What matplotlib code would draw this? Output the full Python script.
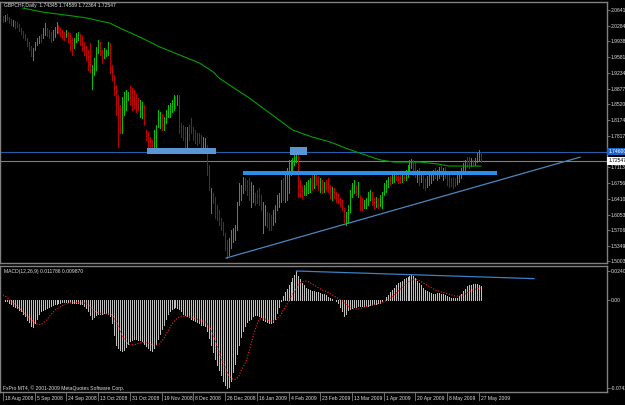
import matplotlib
matplotlib.use("Agg")
import matplotlib.pyplot as plt
from matplotlib.patches import Rectangle
import numpy as np

plt.rcParams['font.family'] = ['Liberation Sans', 'DejaVu Sans']

# GBPCHF daily bars (one bar per trading day, Sundays included)
high = [
    2.050, 2.052, 2.055, 2.048, 2.043, 2.041, 2.039, 2.037, 2.032, 2.023,
    2.017, 2.010, 2.001, 1.992, 1.983, 1.978, 1.992, 2.001, 2.005, 2.010,
    2.023, 2.034, 2.023, 2.019, 2.014, 2.019, 2.026, 2.037, 2.030, 2.023,
    2.019, 2.014, 2.019, 2.014, 2.012, 2.001, 2.001, 2.012, 2.014, 2.010,
    2.005, 1.992, 1.983, 1.974, 1.990, 1.940, 1.956, 1.981, 1.996, 1.992,
    1.974, 1.978, 1.974, 1.992, 1.990, 1.940, 1.918, 1.896, 1.873, 1.851,
    1.869, 1.880, 1.884, 1.880, 1.893, 1.889, 1.884, 1.875, 1.866, 1.862,
    1.858, 1.851, 1.795, 1.790, 1.779, 1.772, 1.795, 1.806, 1.840, 1.835,
    1.831, 1.824, 1.840, 1.851, 1.855, 1.862, 1.873, 1.871, 1.873, 1.873,
    1.810, 1.806, 1.801, 1.801, 1.806, 1.822, 1.801, 1.795, 1.788, 1.788,
    1.784, 1.779, 1.777, 1.761, 1.716, 1.665, 1.654, 1.645, 1.627, 1.616,
    1.598, 1.589, 1.564, 1.548, 1.553, 1.571, 1.575, 1.582, 1.634, 1.676,
    1.672, 1.690, 1.687, 1.683, 1.687, 1.678, 1.672, 1.654, 1.660, 1.665,
    1.649, 1.634, 1.627, 1.611, 1.609, 1.604, 1.616, 1.627, 1.649, 1.654,
    1.683, 1.687, 1.701, 1.710, 1.728, 1.728, 1.732, 1.745, 1.750, 1.750,
    1.683, 1.672, 1.672, 1.678, 1.683, 1.687, 1.694, 1.698, 1.701, 1.692,
    1.687, 1.683, 1.678, 1.683, 1.687, 1.672, 1.667, 1.665, 1.656, 1.654,
    1.642, 1.638, 1.620, 1.611, 1.627, 1.660, 1.676, 1.683, 1.672, 1.678,
    1.649, 1.642, 1.638, 1.642, 1.656, 1.660, 1.656, 1.642, 1.645, 1.642,
    1.649, 1.656, 1.676, 1.683, 1.690, 1.692, 1.696, 1.701, 1.698, 1.698,
    1.694, 1.698, 1.701, 1.705, 1.716, 1.728, 1.730, 1.728, 1.723, 1.705,
    1.710, 1.701, 1.694, 1.687, 1.692, 1.694, 1.701, 1.705, 1.710, 1.705,
    1.712, 1.714, 1.710, 1.712, 1.701, 1.694, 1.687, 1.690, 1.687, 1.694,
    1.701, 1.710, 1.721, 1.728, 1.734, 1.734, 1.732, 1.728, 1.732, 1.743,
    1.750, 1.746,
]
low = [
    2.037, 2.039, 2.041, 2.034, 2.030, 2.028, 2.023, 2.026, 2.017, 2.010,
    2.001, 1.996, 1.983, 1.974, 1.961, 1.952, 1.974, 1.985, 1.990, 1.992,
    2.001, 2.008, 2.005, 2.001, 1.992, 1.996, 2.003, 2.012, 2.012, 2.005,
    2.001, 1.996, 2.003, 1.992, 1.974, 1.963, 1.978, 1.992, 1.996, 1.985,
    1.974, 1.963, 1.952, 1.929, 1.925, 1.887, 1.918, 1.929, 1.967, 1.963,
    1.945, 1.956, 1.961, 1.963, 1.922, 1.907, 1.873, 1.828, 1.757, 1.788,
    1.788, 1.828, 1.840, 1.862, 1.851, 1.840, 1.844, 1.835, 1.840, 1.824,
    1.822, 1.806, 1.772, 1.754, 1.743, 1.743, 1.750, 1.754, 1.801, 1.799,
    1.795, 1.795, 1.810, 1.824, 1.824, 1.835, 1.840, 1.844, 1.851, 1.788,
    1.779, 1.772, 1.754, 1.757, 1.772, 1.788, 1.772, 1.766, 1.761, 1.766,
    1.754, 1.745, 1.750, 1.694, 1.660, 1.609, 1.631, 1.598, 1.593, 1.582,
    1.571, 1.560, 1.526, 1.508, 1.515, 1.530, 1.544, 1.548, 1.571, 1.627,
    1.638, 1.654, 1.660, 1.649, 1.638, 1.622, 1.634, 1.627, 1.631, 1.627,
    1.616, 1.564, 1.582, 1.578, 1.571, 1.571, 1.582, 1.589, 1.616, 1.622,
    1.634, 1.638, 1.634, 1.638, 1.654, 1.694, 1.701, 1.716, 1.723, 1.645,
    1.645, 1.642, 1.649, 1.649, 1.654, 1.656, 1.660, 1.665, 1.672, 1.660,
    1.656, 1.654, 1.656, 1.660, 1.656, 1.642, 1.638, 1.642, 1.634, 1.631,
    1.625, 1.616, 1.589, 1.582, 1.586, 1.611, 1.645, 1.654, 1.649, 1.645,
    1.616, 1.616, 1.620, 1.620, 1.627, 1.638, 1.627, 1.620, 1.622, 1.620,
    1.625, 1.620, 1.649, 1.656, 1.667, 1.672, 1.676, 1.678, 1.683, 1.676,
    1.676, 1.678, 1.683, 1.683, 1.690, 1.701, 1.710, 1.694, 1.690, 1.678,
    1.672, 1.678, 1.665, 1.660, 1.667, 1.672, 1.676, 1.683, 1.687, 1.683,
    1.687, 1.692, 1.683, 1.687, 1.672, 1.667, 1.669, 1.665, 1.669, 1.674,
    1.678, 1.687, 1.701, 1.705, 1.712, 1.710, 1.714, 1.714, 1.716, 1.723,
    1.728, 1.724,
]
# u = bull bar (green), d = bear bar (red)
direction = ("dudddudddd" "ddddduuuud" "uuddduuudd" "dduddduuud" "ddddduuuud"
             "duuudddddd" "uuuudddddu" "uddddduuuu" "duuuuuudud" "dddudddddd"
             "duuddudddd" "dddduuuuuu" "uuddduuddd" "duuddduuuu" "uduuuuuuud"
             "dduuuududd" "ududdduddd" "ddduuuuudu" "dduuuuddud" "uuuuuduudd"
             "duduuuuddu" "dudduuuudu" "ududdddddu" "uuuudduduuud")

# moving average (green line) read at a few bars
ma_idx = [10, 20, 32, 42, 54, 59, 69, 79, 89, 99, 106, 109, 125, 146, 156, 165, 173, 180, 190, 197, 210, 219, 225, 241]
ma_val = [2.068, 2.059, 2.052, 2.046, 2.034, 2.023, 2.003, 1.981, 1.963, 1.945, 1.925, 1.911, 1.864,
          1.795, 1.779, 1.768, 1.754, 1.743, 1.728, 1.723, 1.723, 1.719, 1.714, 1.714]

# MACD(12,26,9) in thousandths
macd_main_milli = [
    -0.5, -1, -1.5, -2.5, -3.5, -5, -6, -7, -9, -10,
    -12, -14, -17, -19, -22, -23, -20, -16, -12, -10,
    -9, -8, -7, -6, -5, -4.5, -4, -3.5, -3, -2.5,
    -2, -2, -1.8, -2, -2.2, -2.5, -2.5, -2.8, -3, -3.5,
    -4, -5, -7, -10, -13, -16, -15, -13, -12, -12,
    -12, -11, -11, -12, -14, -20, -30, -38, -41, -42,
    -43, -42, -40, -37, -35, -34, -33, -33, -34, -34,
    -35, -37, -39, -41, -42, -43, -41, -37, -33, -29,
    -25, -21, -16, -12, -10, -8, -7, -6.5, -7, -8,
    -10, -12, -13, -14, -15, -16, -17, -18, -19, -20,
    -21, -21, -22, -26, -32, -38, -44, -50, -55, -59,
    -63, -68, -72, -74, -73, -68, -61, -54, -46, -38,
    -31, -26, -22, -19, -17, -16, -14, -13, -13, -14,
    -15, -17, -18, -19, -20, -20, -19, -16, -11, -6,
    -1, 3, 6, 9, 12, 15, 18, 21, 24, 20,
    17, 14, 12, 10, 9, 8, 7.5, 7, 6.5, 6,
    5.5, 5, 4.5, 3.5, 2.5, 1.5, 0.5, -0.5, -1.5, -3,
    -6, -10, -14, -12, -9, -8, -7, -6, -6, -5.5,
    -5, -5, -5, -5, -5, -4.5, -4, -4, -3.5, -3,
    -2.5, -1.5, 0, 2, 4, 6, 8, 10, 12, 14,
    15, 16, 17, 18, 19, 20, 21, 20, 18, 16,
    14, 12, 10, 8, 7, 6, 5.5, 5, 5, 5.5,
    5.5, 5, 4.5, 4, 3, 2, 1.5, 1, 1, 1.5,
    3, 5, 7, 9, 11, 12, 12.5, 13, 13.5, 13,
    12.5, 11.8,
]
macd_signal_milli = [
    4, 3, 2, 0.5, -1, -2.5, -4, -5.5, -7, -8.5,
    -10, -12, -13.5, -15, -16.5, -18, -19.5, -20.5, -21, -21,
    -20, -18.5, -17, -15, -13, -11, -9.5, -8, -7, -6,
    -5, -4, -3.5, -3, -2.8, -2.6, -2.5, -2.5, -2.5, -2.6,
    -2.8, -3, -3.5, -4.5, -6, -8, -9.5, -10.5, -11, -11.5,
    -12, -12, -12, -12, -12, -13, -15, -18, -22, -26,
    -30, -33, -35, -37, -38, -38, -38, -37.5, -37, -36.5,
    -36, -36, -36, -36.5, -37, -38, -38.5, -38.5, -38, -37,
    -35, -33, -30, -27, -24, -21, -19, -17, -15.5, -14.5,
    -14, -14, -14, -14, -14.5, -15, -15.5, -16, -16.5, -17,
    -17.5, -18, -19, -20.5, -22.5, -25.5, -29.5, -34, -39, -44,
    -49, -53, -57, -61, -64, -66, -67, -67, -66, -64,
    -60, -57, -54, -50, -44, -38, -32, -26, -21, -17,
    -16, -16, -16.5, -17, -17.5, -18, -18, -17.5, -16.5, -15,
    -13, -10, -7.5, -4.5, -1.5, 1.5, 4.5, 7, 9.5, 12,
    14, 15, 15.5, 15.5, 15, 14, 13, 12, 11, 10,
    9, 8, 7.5, 7, 6, 5, 4, 3, 2, 1,
    0, -1, -2.5, -4, -5.5, -6.5, -7.5, -8, -8, -8,
    -7.5, -7, -6.5, -6, -5.5, -5, -5, -4.5, -4, -3.5,
    -3, -2.5, -2, -1, 0, 1, 2, 3.5, 5, 6.5,
    8, 9.5, 11, 12.5, 14, 15.5, 16.5, 17, 17, 16.5,
    16, 15, 14, 13, 12, 11, 10, 9, 8, 7.5,
    7, 6.5, 6, 5.5, 5, 4.5, 4, 3.5, 3, 3,
    3, 3.5, 4, 4.5, 5.5, 6.5, 7.5, 8, 8.5, 9,
    9.5, 9.87,
]

date_idx = [0, 16, 32, 48, 64, 80, 96, 112, 128, 144, 160, 176, 192, 208, 224, 240]
date_labels = ["18 Aug 2008", "5 Sep 2008", "24 Sep 2008", "13 Oct 2008", "31 Oct 2008",
               "19 Nov 2008", "8 Dec 2008", "26 Dec 2008", "16 Jan 2009", "4 Feb 2009",
               "23 Feb 2009", "13 Mar 2009", "1 Apr 2009", "20 Apr 2009", "8 May 2009",
               "27 May 2009"]
price_ticks = [2.06415, 2.02845, 1.99380, 1.95810, 1.92345, 1.88775, 1.85205, 1.81740,
               1.78170, 1.71135, 1.67565, 1.64100, 1.60530, 1.57065, 1.53495, 1.50030]
macd_ticks = [0.024046, 0.0, -0.074213]
macd_tick_labels = ["0.024046", "0.00", "-0.074213"]

resistance = 1.74600
bid = 1.72547

W, H = 625, 405
FS = 3.6
TXT = '#e0e0e0'
FRAME = '#808080'


def px_box(x0, y0, x1, y1):
    return [x0 / W, 1 - y1 / H, (x1 - x0) / W, (y1 - y0) / H]


fig = plt.figure(figsize=(W / 100, H / 100), dpi=100, facecolor='black')
ax = fig.add_axes(px_box(0, 2, 607, 263))
ax2 = fig.add_axes(px_box(0, 266, 607, 392))

for a in (ax, ax2):
    a.set_facecolor('black')
    for s in a.spines.values():
        s.set_color(FRAME)
        s.set_linewidth(1.0)
    a.set_xlim(-1.5, 304.6)
    a.yaxis.tick_right()
    a.tick_params(axis='y', colors=FRAME, labelcolor=TXT, labelsize=FS, length=2, width=0.6, pad=0.8)
    a.tick_params(axis='x', bottom=False, labelbottom=False)

xs = np.arange(len(high))

# price panel
ax.set_ylim(1.4969, 2.0815)
colors = ['#00c000' if c == 'u' else '#c00000' for c in direction[:len(xs)]]
ax.vlines(xs, low, high, colors=colors, linewidth=0.5, antialiased=False, zorder=2)
ax.plot(ma_idx, ma_val, color='#00a000', linewidth=0.8, zorder=3)

ax.axhline(resistance, color='#2060a8', linewidth=0.8, zorder=1)
ax.axhline(bid, color='#808080', linewidth=0.8, zorder=1)

ax.add_patch(Rectangle((72.6, 1.741), 34.8, 0.013, facecolor='#5a96d6', edgecolor='none', zorder=4))
ax.add_patch(Rectangle((144.7, 1.739), 8.6, 0.018, facecolor='#5a96d6', edgecolor='none', zorder=4))
ax.fill_between([121.0, 249.1], 1.694, 1.703, color='#2a8fe6', linewidth=0, zorder=4)
ax.plot([112.5, 291.0], [1.508, 1.734], color='#4a86c0', linewidth=0.9, zorder=4)

ax.set_yticks(price_ticks)
ax.set_yticklabels(['%.5f' % v for v in price_ticks])

ax.text(1.002, resistance, '%.5f' % resistance, transform=ax.get_yaxis_transform(),
        ha='left', va='center', fontsize=FS, color='white', clip_on=False,
        bbox=dict(facecolor='#1e64c8', edgecolor='none', pad=0.8))
ax.text(1.002, bid, '%.5f' % bid, transform=ax.get_yaxis_transform(),
        ha='left', va='center', fontsize=FS, color='black', clip_on=False,
        bbox=dict(facecolor='white', edgecolor='none', pad=0.8))

fig.text(4 / W, 1 - 6 / H, 'GBPCHF,Daily  1.74345 1.74589 1.72364 1.72547',
         fontsize=FS, color=TXT, va='center')

# MACD panel
main = np.array(macd_main_milli) / 1000
signal = np.array(macd_signal_milli) / 1000
ax2.set_ylim(-0.0776, 0.0282)
ax2.vlines(xs, 0, main, colors='#c0c0c0', linewidth=0.5, antialiased=False)
ax2.plot(xs, signal, color='#ff2020', linewidth=0.8, linestyle=(0, (1, 1.5)))
ax2.plot([148, 267.8], [0.0240, 0.0176], color='#3b7fc4', linewidth=0.9)
ax2.set_yticks(macd_ticks)
ax2.set_yticklabels(macd_tick_labels)

fig.text(4 / W, 1 - 272 / H, 'MACD(12,26,9) 0.011786 0.009870', fontsize=FS, color=TXT, va='center')
fig.text(3 / W, 1 - 388 / H, 'FxPro MT4, \u00a9 2001-2009 MetaQuotes Software Corp.',
         fontsize=FS, color=TXT, va='center')

# date axis, MT4 style: tick then text to its right
for i, lab in zip(date_idx, date_labels):
    ax2.plot([i, i], [-0.01, -0.06], transform=ax2.get_xaxis_transform(), color=FRAME,
             linewidth=0.6, clip_on=False)
    ax2.text(i + 1.0, -0.055, lab, transform=ax2.get_xaxis_transform(), ha='left', va='center',
             fontsize=FS, color=TXT, clip_on=False)

fig.savefig('out.png', dpi=100, facecolor='black')
